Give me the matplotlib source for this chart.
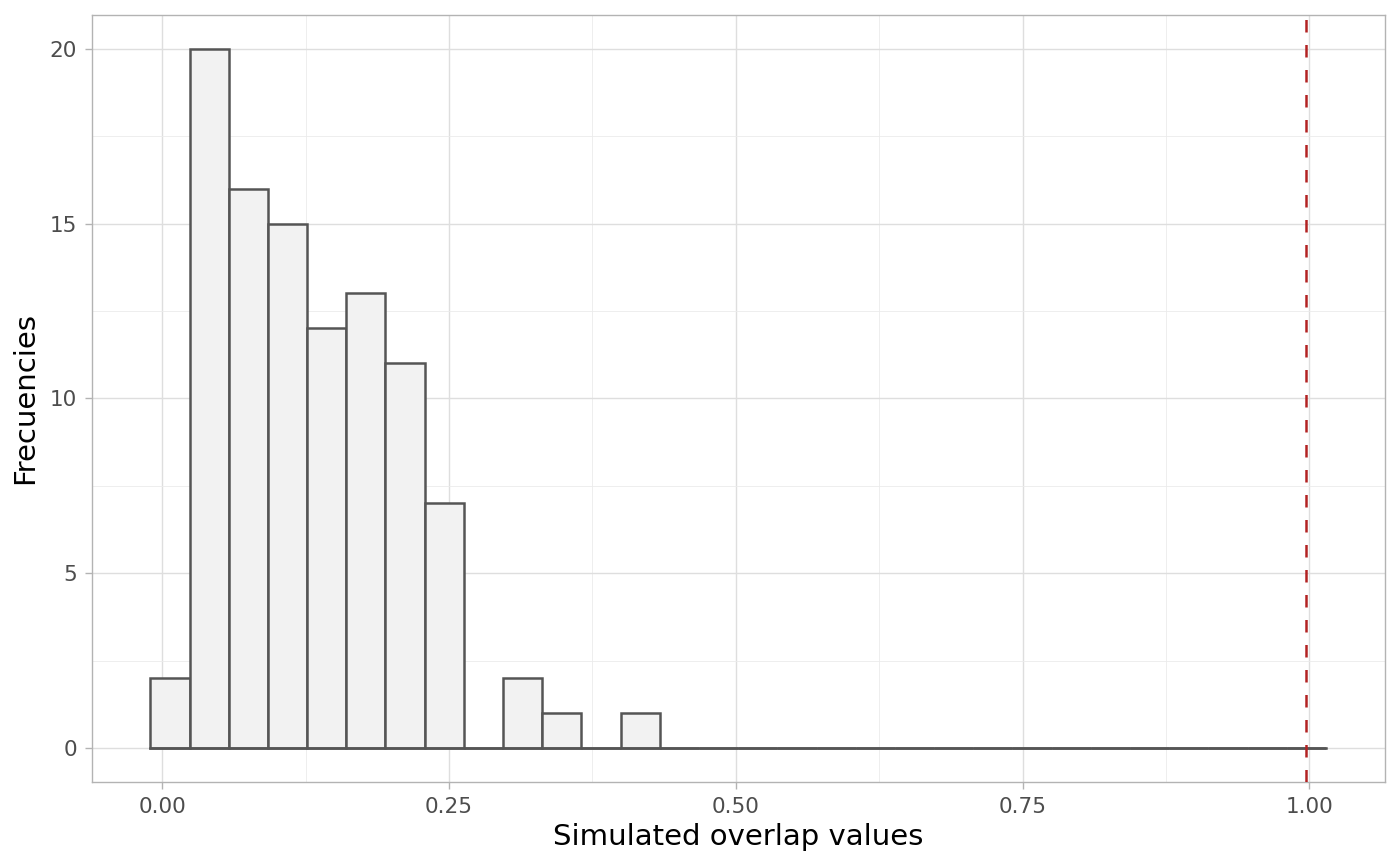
import numpy as np
import matplotlib.pyplot as plt

# histogram of simulated overlap values (30 bins, ggplot style)
counts = [2, 20, 16, 15, 12, 13, 11, 7, 0, 2, 1, 0, 1] + [0] * 17
first_center = 0.0066
observed = 0.9974
xticks = [0.00, 0.25, 0.50, 0.75, 1.00]
xticklabels = ['0.00', '0.25', '0.50', '0.75', '1.00']
yticks = [0, 5, 10, 15, 20]

width = (observed - first_center) / 29
edges = first_center - width / 2 + width * np.arange(31)

plt.rcParams['font.family'] = ['DejaVu Sans']
fig, ax = plt.subplots(figsize=(14, 8.66), dpi=100)
fig.subplots_adjust(left=0.066, right=0.989, top=0.983, bottom=0.097)

# grid
for v in np.arange(-0.125, 1.2, 0.125):
    ax.axvline(v, color='#EBEBEB' if v % 0.25 else '#DEDEDE', lw=0.6 if v % 0.25 else 1.0, zorder=0)
for v in np.arange(0, 21, 2.5):
    ax.axhline(v, color='#EBEBEB' if v % 5 else '#DEDEDE', lw=0.6 if v % 5 else 1.0, zorder=0)

ax.hist(edges[:-1], bins=edges, weights=counts, facecolor='#F2F2F2',
        edgecolor='#555555', linewidth=1.8, histtype='bar', zorder=2)
# outline the zero-count baseline like ggplot
ax.plot([edges[0], edges[-1]], [0, 0], color='#555555', lw=1.8, zorder=2)
ax.axvline(observed, color='#B22222', lw=1.8, ls=(0, (5, 5)), zorder=3)

ax.set_xlim(-0.061, 1.0656)
ax.set_ylim(-0.97, 20.97)
ax.set_xticks(xticks)
ax.set_xticklabels(xticklabels)
ax.set_yticks(yticks)
ax.tick_params(colors='#B3B3B3', labelcolor='#4D4D4D', labelsize=15.5, length=5, width=1, pad=6)
for s in ax.spines.values():
    s.set_color('#B3B3B3')
    s.set_linewidth(1.0)
ax.set_xlabel('Simulated overlap values', fontsize=21, color='black', labelpad=4)
ax.set_ylabel('Frecuencies', fontsize=21, color='black', labelpad=8)

fig.savefig('out.png')
